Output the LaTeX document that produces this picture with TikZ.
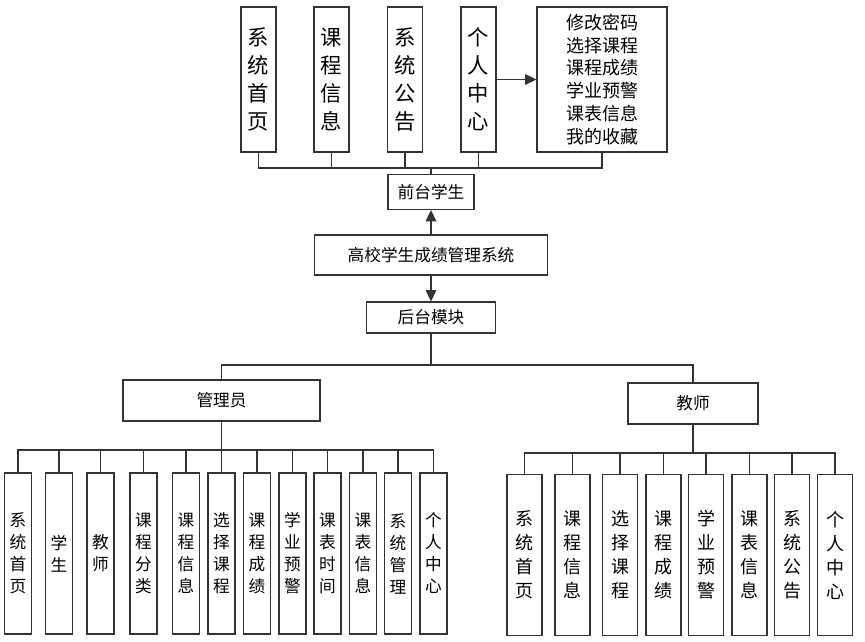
\documentclass[tikz,border=0pt]{standalone}
\usepackage{fontspec}
\setmainfont{Noto Sans CJK SC}
\usetikzlibrary{arrows.meta}

\tikzset{
	box/.style={draw=black!80, line width=0.8pt, inner sep=0pt, align=center, fill=white},
	topbox/.style={box, minimum width=26.25pt, minimum height=108.75pt, font=\fontsize{16}{21}\selectfont},
	label/.style={box, font=\fontsize{12.5}{15}\selectfont},
	admbox/.style={box, minimum width=20.25pt, minimum height=120.75pt, font=\fontsize{12.5}{16.5}\selectfont},
	tchbox/.style={box, minimum width=26.25pt, minimum height=120.75pt, font=\fontsize{13.5}{18}\selectfont},
	link/.style={draw=black!80, line width=0.8pt}
}

\begin{document}
\begin{tikzpicture}[x=0.75pt,y=-0.75pt,>={Triangle[length=8.5pt,width=8pt]}]
	\useasboundingbox (0,0) rectangle (865,642);

	% front end
	\node[label, minimum width=64.5pt, minimum height=26.25pt] (qtxs) at (431,192) {前台学生};
	\coordinate (sbus) at (431,168);
	\foreach \x/\lbl [count=\i] in {258.5/{系\\统\\首\\页}, 331.5/{课\\程\\信\\息}, 405/{系\\统\\公\\告}, 478.5/{个\\人\\中\\心}}{
		\node[topbox] (s\i) at (\x,79.5) {\lbl};
		\draw[link] (s\i.south) |- (sbus) -- (qtxs.north);
	}
	\node[box, minimum width=97.5pt, minimum height=108.75pt, font=\fontsize{13.5}{17.2}\selectfont] (grzx) at (602,79.5)
		{修改密码\\选择课程\\课程成绩\\学业预警\\课表信息\\我的收藏};
	\draw[link] (grzx.south) |- (sbus) -- (qtxs.north);
	\draw[link,->] (s4.east) -- (grzx.west);

	% system
	\node[label, minimum width=174.75pt, minimum height=30pt] (xt) at (431,255) {高校学生成绩管理系统};
	\node[label, minimum width=96.75pt, minimum height=23.25pt] (htmk) at (431,317.5) {后台模块};
	\draw[link,->] (xt) -- (qtxs);
	\draw[link,->] (xt) -- (htmk);

	% back end
	\node[label, minimum width=147.75pt, minimum height=30.75pt] (gly) at (221.5,400.5) {管理员};
	\node[label, minimum width=97.5pt, minimum height=30.75pt] (js) at (693,403.5) {教师};
	\coordinate (hbus) at (431,365);
	\draw[link] (htmk.south) -- (hbus) -| (gly.north);
	\draw[link] (hbus) -| (js.north);

	% admin
	\coordinate (gbus) at (221.5,450);
	\foreach \x/\lbl [count=\i] in {18/{系\\统\\首\\页}, 59/{学\\生}, 100.5/{教\\师}, 143.5/{课\\程\\分\\类},
		186/{课\\程\\信\\息}, 221.5/{选\\择\\课\\程}, 257/{课\\程\\成\\绩}, 292.5/{学\\业\\预\\警},
		327.5/{课\\表\\时\\间}, 363/{课\\表\\信\\息}, 398/{系\\统\\管\\理}, 433.5/{个\\人\\中\\心}}{
		\node[admbox] (a\i) at (\x,553.5) {\lbl};
		\draw[link] (gly.south) -- (gbus) -| (a\i.north);
	}

	% teacher
	\coordinate (jbus) at (693,453);
	\foreach \x/\lbl [count=\i] in {524.5/{系\\统\\首\\页}, 572.5/{课\\程\\信\\息}, 620/{选\\择\\课\\程}, 663.5/{课\\程\\成\\绩},
		706/{学\\业\\预\\警}, 749.5/{课\\表\\信\\息}, 792/{系\\统\\公\\告}, 835/{个\\人\\中\\心}}{
		\node[tchbox] (t\i) at (\x,555) {\lbl};
		\draw[link] (js.south) -- (jbus) -| (t\i.north);
	}
\end{tikzpicture}
\end{document}
